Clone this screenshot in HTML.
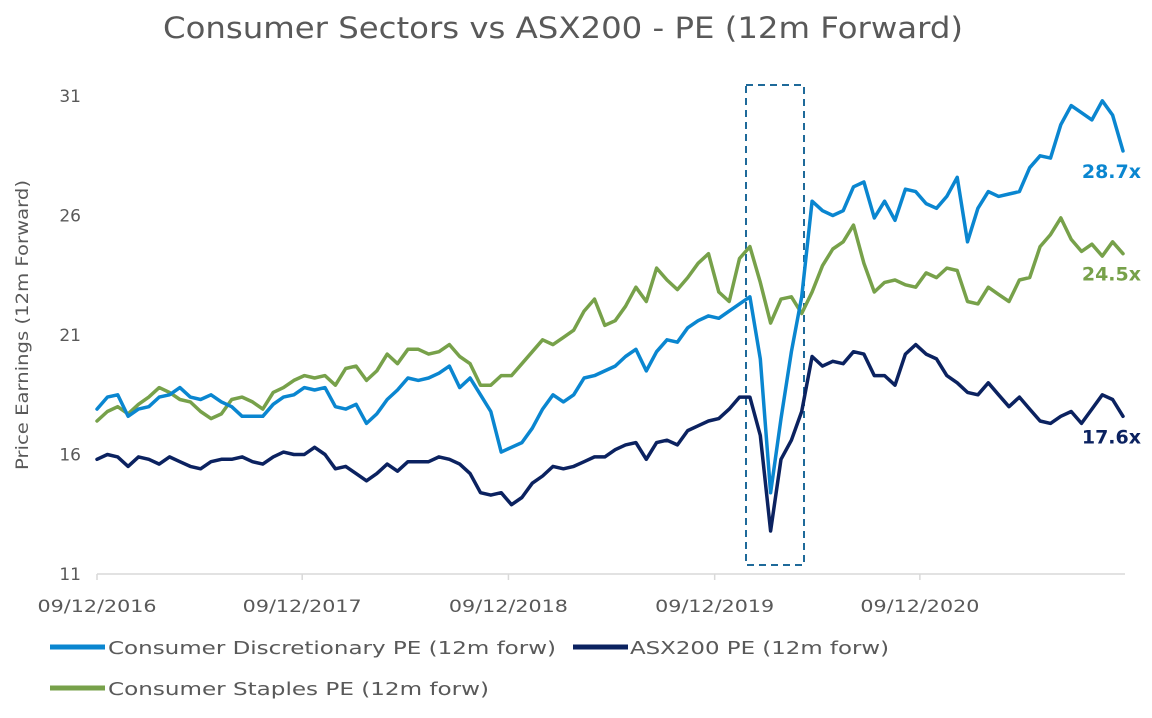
<!DOCTYPE html>
<html><head><meta charset="utf-8"><style>
html,body{margin:0;padding:0;background:#fff;}
svg{display:block;font-family:"DejaVu Sans","Liberation Sans",sans-serif;}
</style></head><body>
<svg id="chart" width="1152" height="718" viewBox="0 0 1152 718">
<text x="563" y="38" text-anchor="middle" font-size="29" fill="#595959" textLength="800" lengthAdjust="spacingAndGlyphs">Consumer Sectors vs ASX200 - PE (12m Forward)</text>
<text transform="translate(28,325) rotate(-90)" text-anchor="middle" font-size="17" fill="#595959" textLength="290" lengthAdjust="spacingAndGlyphs">Price Earnings (12m Forward)</text>
<g id="yticks"></g>
<g id="xticks"></g>
<rect x="746" y="85" width="58" height="480" fill="none" stroke="#1f6a9a" stroke-width="2" stroke-dasharray="7,5"/>
<g id="series"></g>
<g id="endlabels"></g>
<g>
<line x1="50" y1="647" x2="105" y2="647" stroke="#0a86d0" stroke-width="5"/>
<text x="108" y="654" font-size="18" fill="#595959" textLength="448" lengthAdjust="spacingAndGlyphs">Consumer Discretionary PE (12m forw)</text>
<line x1="573" y1="647" x2="628" y2="647" stroke="#0b2260" stroke-width="5"/>
<text x="630" y="654" font-size="18" fill="#595959" textLength="259" lengthAdjust="spacingAndGlyphs">ASX200 PE (12m forw)</text>
<line x1="50" y1="688" x2="105" y2="688" stroke="#77a14a" stroke-width="5"/>
<text x="108" y="695" font-size="18" fill="#595959" textLength="381" lengthAdjust="spacingAndGlyphs">Consumer Staples PE (12m forw)</text>
</g>
</svg>
<script>
const yTicks = [11, 16, 21, 26, 31];
const xTickLabels = ["09/12/2016","09/12/2017","09/12/2018","09/12/2019","09/12/2020"];
const xTickIndex = [0, 19.8, 39.7, 59.6, 79.4];
const discretionary = [17.9,18.4,18.5,17.6,17.9,18.0,18.4,18.5,18.8,18.4,18.3,18.5,18.2,18.0,17.6,17.6,17.6,18.1,18.4,18.5,18.8,18.7,18.8,18.0,17.9,18.1,17.3,17.7,18.3,18.7,19.2,19.1,19.2,19.4,19.7,18.8,19.2,18.5,17.8,16.1,16.3,16.5,17.1,17.9,18.5,18.2,18.5,19.2,19.3,19.5,19.7,20.1,20.4,19.5,20.3,20.8,20.7,21.3,21.6,21.8,21.7,22.0,22.3,22.6,20.0,14.4,17.5,20.3,22.6,26.6,26.2,26.0,26.2,27.2,27.4,25.9,26.6,25.8,27.1,27.0,26.5,26.3,26.8,27.6,24.9,26.3,27.0,26.8,26.9,27.0,28.0,28.5,28.4,29.8,30.6,30.3,30.0,30.8,30.2,28.7];
const staples = [17.4,17.8,18.0,17.7,18.1,18.4,18.8,18.6,18.3,18.2,17.8,17.5,17.7,18.3,18.4,18.2,17.9,18.6,18.8,19.1,19.3,19.2,19.3,18.9,19.6,19.7,19.1,19.5,20.2,19.8,20.4,20.4,20.2,20.3,20.6,20.1,19.8,18.9,18.9,19.3,19.3,19.8,20.3,20.8,20.6,20.9,21.2,22.0,22.5,21.4,21.6,22.2,23.0,22.4,23.8,23.3,22.9,23.4,24.0,24.4,22.8,22.4,24.2,24.7,23.2,21.5,22.5,22.6,21.9,22.8,23.9,24.6,24.9,25.6,24.0,22.8,23.2,23.3,23.1,23.0,23.6,23.4,23.8,23.7,22.4,22.3,23.0,22.7,22.4,23.3,23.4,24.7,25.2,25.9,25.0,24.5,24.8,24.3,24.9,24.4];
const asx200 = [15.8,16.0,15.9,15.5,15.9,15.8,15.6,15.9,15.7,15.5,15.4,15.7,15.8,15.8,15.9,15.7,15.6,15.9,16.1,16.0,16.0,16.3,16.0,15.4,15.5,15.2,14.9,15.2,15.6,15.3,15.7,15.7,15.7,15.9,15.8,15.6,15.2,14.4,14.3,14.4,13.9,14.2,14.8,15.1,15.5,15.4,15.5,15.7,15.9,15.9,16.2,16.4,16.5,15.8,16.5,16.6,16.4,17.0,17.2,17.4,17.5,17.9,18.4,18.4,16.8,12.8,15.8,16.6,17.8,20.1,19.7,19.9,19.8,20.3,20.2,19.3,19.3,18.9,20.2,20.6,20.2,20.0,19.3,19.0,18.6,18.5,19.0,18.5,18.0,18.4,17.9,17.4,17.3,17.6,17.8,17.3,17.9,18.5,18.3,17.6];
const endLabels = ["28.7x","24.5x","17.6x"];

const NS = "http://www.w3.org/2000/svg";
const X0 = 97, X1 = 1123, Y0 = 574, Y1 = 96, VMIN = 11, VMAX = 31;
const N = discretionary.length;
function xs(i){ return X0 + i * (X1 - X0) / (N - 1); }
function ys(v){ return Y0 - (v - VMIN) * (Y0 - Y1) / (VMAX - VMIN); }
function mk(tag, attrs, parent){ const e = document.createElementNS(NS, tag); for (const k in attrs) e.setAttribute(k, attrs[k]); parent.appendChild(e); return e; }

const yg = document.getElementById('yticks');
yTicks.forEach(v => {
  const t = mk('text', {x: 81, y: ys(v) + 6, 'text-anchor': 'end', 'font-size': 17, fill: '#595959'}, yg);
  
  
  t.textContent = v;
});
const xg = document.getElementById('xticks');
const axis = mk('line', {x1: X0, y1: Y0, x2: 1125, y2: Y0, stroke: '#d9d9d9', 'stroke-width': 1.5}, xg);


xTickLabels.forEach((lab, k) => {
  const x = xs(xTickIndex[k]);
  const tk = mk('line', {x1: x, y1: Y0, x2: x, y2: Y0 + 6, stroke: '#d9d9d9', 'stroke-width': 1.5}, xg);
  
  
  const t = mk('text', {x: x, y: 612, 'text-anchor': 'middle', 'font-size': 17, fill: '#595959', textLength: 119, lengthAdjust: 'spacingAndGlyphs'}, xg);
  
  
  t.textContent = lab;
});

const sg = document.getElementById('series');
function drawSeries(arr, color, name){
  const d = arr.map((v, i) => (i ? 'L' : 'M') + xs(i).toFixed(1) + ',' + ys(v).toFixed(1)).join(' ');
  const p = mk('path', {d: d, fill: 'none', stroke: color, 'stroke-width': 3.5, 'stroke-linejoin': 'round', 'stroke-linecap': 'round'}, sg);
  
  
}
drawSeries(staples, '#77a14a', 'staples-line');
drawSeries(discretionary, '#0a86d0', 'discretionary-line');
drawSeries(asx200, '#0b2260', 'asx200-line');

const eg = document.getElementById('endlabels');
const endCols = ['#0a86d0', '#77a14a', '#0b2260'];
const endSeries = [discretionary, staples, asx200];
endLabels.forEach((lab, k) => {
  const v = endSeries[k][N - 1];
  const t = mk('text', {x: 1141, y: ys(v) + 27, 'text-anchor': 'end', 'font-size': 19, 'font-weight': 'bold', fill: endCols[k]}, eg);
  
  
  t.textContent = lab;
});
</script>
</body></html>
